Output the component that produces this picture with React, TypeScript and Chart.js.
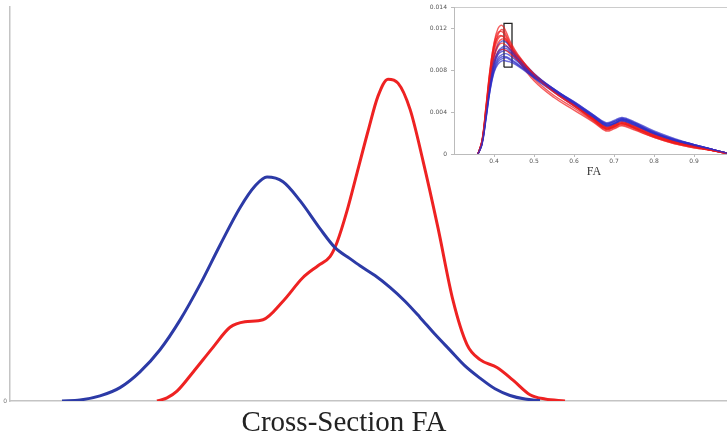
import React, { useEffect, useRef } from "react";
import { Chart, registerables } from "chart.js";
Chart.register(...registerables);

// ---- Main chart data (x in arbitrary cross-section units, y in % of axis height)
const blueX = [52, 70, 90, 110, 130, 150, 170, 190, 210, 230, 245, 257, 273, 290, 310, 325, 340, 350, 365, 380, 395, 410, 425, 440, 455, 470, 485, 500, 515, 530];
const blueY = [0, 0.25, 1.3, 3.4, 7.4, 13.0, 20.5, 29.5, 39.5, 49.0, 54.5, 56.8, 55.6, 50.8, 43.7, 38.9, 36.1, 34.3, 31.8, 28.8, 25.3, 21.2, 16.9, 12.9, 8.9, 5.8, 3.1, 1.4, 0.5, 0.1];
const redX = [147, 157, 167, 183, 203, 220, 235, 253, 273, 293, 308, 320, 327, 337, 347, 358, 368, 378, 388, 400, 413, 428, 443, 457, 470, 487, 503, 520, 535, 555];
const redY = [0, 0.8, 2.5, 7.3, 13.6, 18.7, 20.1, 20.6, 25.3, 31.3, 34.3, 36.6, 40.2, 48.2, 57.8, 68.4, 77.3, 81.6, 80.6, 74.0, 60.9, 43.9, 25.5, 14.3, 10.5, 8.5, 5.3, 1.6, 0.5, 0];
const mainYTicks = [0];
const mainTitle = "Cross-Section FA";

// ---- Inset data (FA vs density, density in thousandths)
const insetX = [0.36, 0.37, 0.38, 0.39, 0.40, 0.41, 0.42, 0.43, 0.44, 0.46, 0.50, 0.55, 0.60, 0.65, 0.68, 0.70, 0.72, 0.75, 0.80, 0.85, 0.90, 0.95, 0.99];
const blueCurves = [
  [0, 1.0, 3.6, 6.4, 8.3, 9.2, 9.5, 9.6, 9.4, 8.8, 7.5, 6.1, 4.9, 3.6, 2.9, 3.1, 3.4, 3.0, 2.1, 1.4, 0.9, 0.4, 0],
  [0, 0.9, 3.3, 6.0, 7.8, 8.6, 8.9, 8.9, 8.8, 8.4, 7.3, 6.0, 4.8, 3.5, 2.8, 3.0, 3.3, 2.9, 2.0, 1.3, 0.8, 0.4, 0],
  [0, 1.1, 3.9, 6.8, 8.8, 9.8, 10.2, 10.3, 10.0, 9.1, 7.6, 6.2, 4.9, 3.6, 2.8, 2.9, 3.2, 2.8, 1.9, 1.3, 0.8, 0.4, 0],
  [0, 1.0, 3.5, 6.2, 8.1, 9.0, 9.3, 9.3, 9.1, 8.6, 7.4, 6.1, 5.0, 3.7, 3.0, 3.2, 3.5, 3.1, 2.2, 1.5, 0.9, 0.4, 0],
  [0, 1.2, 4.1, 7.1, 9.3, 10.4, 10.8, 10.7, 10.3, 9.3, 7.7, 6.2, 4.9, 3.5, 2.7, 2.9, 3.2, 2.8, 2.0, 1.3, 0.8, 0.4, 0],
  [0, 0.9, 3.4, 6.1, 7.9, 8.8, 9.1, 9.2, 9.0, 8.5, 7.4, 6.0, 4.7, 3.4, 2.7, 2.9, 3.3, 2.9, 2.0, 1.4, 0.9, 0.4, 0],
  [0, 1.1, 3.8, 6.6, 8.6, 9.5, 9.8, 9.9, 9.7, 9.0, 7.6, 6.2, 5.0, 3.7, 2.9, 3.1, 3.4, 3.0, 2.1, 1.4, 0.9, 0.4, 0],
  [0, 1.0, 3.7, 6.5, 8.5, 9.6, 10.0, 10.1, 9.8, 8.9, 7.3, 5.9, 4.6, 3.4, 2.6, 2.8, 3.1, 2.7, 1.9, 1.2, 0.8, 0.3, 0],
];
const redCurves = [
  [0, 1.3, 4.5, 8.0, 10.6, 12.0, 12.3, 11.7, 10.8, 9.5, 7.6, 5.9, 4.6, 3.2, 2.4, 2.6, 2.9, 2.5, 1.7, 1.1, 0.7, 0.3, 0],
  [0, 1.2, 4.2, 7.4, 9.8, 11.0, 11.3, 11.0, 10.4, 9.3, 7.6, 6.0, 4.7, 3.3, 2.5, 2.7, 3.0, 2.6, 1.8, 1.2, 0.7, 0.3, 0],
  [0, 1.1, 4.0, 7.0, 9.2, 10.3, 10.6, 10.4, 10.0, 9.1, 7.5, 6.0, 4.7, 3.3, 2.5, 2.7, 3.0, 2.6, 1.8, 1.2, 0.8, 0.4, 0],
  [0, 1.3, 4.6, 8.1, 10.5, 11.6, 11.7, 11.2, 10.4, 9.0, 7.0, 5.4, 4.2, 3.0, 2.2, 2.4, 2.7, 2.3, 1.6, 1.0, 0.6, 0.3, 0],
  [0, 1.0, 3.8, 6.7, 8.8, 9.8, 10.0, 9.9, 9.6, 8.9, 7.5, 6.1, 4.8, 3.4, 2.6, 2.8, 3.1, 2.7, 1.9, 1.2, 0.8, 0.4, 0],
  [0, 1.2, 4.3, 7.6, 10.1, 11.4, 11.9, 11.4, 10.6, 9.4, 7.7, 6.1, 4.7, 3.3, 2.4, 2.6, 2.9, 2.5, 1.7, 1.1, 0.7, 0.3, 0],
  [0, 1.1, 4.0, 7.1, 9.4, 10.6, 11.0, 10.8, 10.3, 9.2, 7.5, 5.9, 4.6, 3.2, 2.4, 2.6, 2.9, 2.5, 1.7, 1.1, 0.7, 0.3, 0],
  [0, 1.2, 4.4, 7.8, 10.2, 11.2, 11.3, 10.9, 10.2, 9.0, 7.2, 5.6, 4.4, 3.1, 2.3, 2.5, 2.8, 2.4, 1.6, 1.0, 0.6, 0.3, 0],
];
const boxX = [0.425, 0.425, 0.445, 0.445, 0.425];
const boxY = [8.3, 12.5, 12.5, 8.3, 8.3];
const insetXTicks = [0.4, 0.5, 0.6, 0.7, 0.8, 0.9];
const insetYTicks = [0, 4, 8, 12, 14];
const insetTitle = "FA";

const toPts = (xs: number[], ys: number[]) => xs.map((x, i) => ({ x, y: ys[i] }));

export default function App() {
  const mainRef = useRef<HTMLCanvasElement | null>(null);
  const insetRef = useRef<HTMLCanvasElement | null>(null);

  useEffect(() => {
    const titlePlugin = {
      id: "mainTitle",
      afterDraw(chart: any) {
        const ctx = chart.ctx;
        ctx.save();
        ctx.font = '29px "Liberation Serif"';
        ctx.fillStyle = "#222";
        ctx.textAlign = "center";
        ctx.textBaseline = "alphabetic";
        ctx.fillText(mainTitle, 344, 431);
        ctx.restore();
      },
    };
    const main = new Chart(mainRef.current!, {
      type: "line",
      data: {
        datasets: [
          { data: toPts(blueX, blueY), borderColor: "#2c3aa6", borderWidth: 3, pointRadius: 0, cubicInterpolationMode: "monotone", fill: false },
          { data: toPts(redX, redY), borderColor: "#ee2222", borderWidth: 3, pointRadius: 0, cubicInterpolationMode: "monotone", fill: false },
        ],
      },
      options: {
        responsive: false,
        animation: false,
        devicePixelRatio: 1,
        layout: { padding: { top: 5, left: 0, right: 0, bottom: 0 } },
        plugins: { legend: { display: false }, tooltip: { enabled: false } },
        scales: {
          x: {
            type: "linear",
            min: 0,
            max: 717,
            ticks: { display: false },
            grid: { display: false, drawTicks: false },
            border: { display: true, color: "#c4c4c4", width: 1.5 },
            afterFit: (s: any) => { s.height = 38; },
          },
          y: {
            type: "linear",
            min: 0,
            max: 100,
            afterBuildTicks: (s: any) => { s.ticks = mainYTicks.map((v) => ({ value: v })); },
            ticks: { font: { size: 6, family: "DejaVu Sans" }, color: "#777", padding: 3, callback: (v: any) => String(v) },
            grid: { display: false, drawTicks: false },
            border: { display: true, color: "#c4c4c4", width: 1.5 },
            afterFit: (s: any) => { s.width = 10; },
          },
        },
      },
      plugins: [titlePlugin],
    } as any);

    const insetDatasets: any[] = [];
    blueCurves.forEach((c, i) => {
      insetDatasets.push({ data: toPts(insetX, c), borderColor: "rgba(45,45,200,0.7)", borderWidth: 1.4, pointRadius: 0, tension: 0.4, fill: false });
      insetDatasets.push({ data: toPts(insetX, redCurves[i]), borderColor: "rgba(240,25,25,0.7)", borderWidth: 1.4, pointRadius: 0, tension: 0.4, fill: false });
    });
    insetDatasets.push({ data: toPts(boxX, boxY), borderColor: "#222", borderWidth: 1.3, pointRadius: 0, tension: 0, fill: false });

    const inset = new Chart(insetRef.current!, {
      type: "line",
      data: { datasets: insetDatasets },
      options: {
        responsive: false,
        animation: false,
        devicePixelRatio: 1,
        layout: { padding: { top: 5, left: 0, right: 0, bottom: 0 } },
        plugins: { legend: { display: false }, tooltip: { enabled: false } },
        scales: {
          x: {
            type: "linear",
            min: 0.3,
            max: 1.0,
            afterBuildTicks: (s: any) => { s.ticks = insetXTicks.map((v) => ({ value: v })); },
            ticks: { font: { size: 6, family: "DejaVu Sans" }, color: "#555", padding: 1, maxRotation: 0, autoSkip: false, callback: (v: any) => Number(v).toFixed(1) },
            grid: { display: true, drawOnChartArea: false, drawTicks: true, tickLength: 3, color: "#bbb" },
            border: { display: true, color: "#bbb", width: 1 },
            title: { display: true, text: insetTitle, font: { family: "Liberation Serif", size: 12 }, color: "#333", padding: { top: 0, bottom: 1 } },
            afterFit: (s: any) => { s.height = 26; },
          },
          x2: {
            type: "linear",
            position: "top",
            min: 0.3,
            max: 1.0,
            ticks: { display: false },
            grid: { display: false, drawTicks: false },
            border: { display: true, color: "#ccc", width: 1 },
            afterFit: (s: any) => { s.height = 0; },
          },
          y: {
            type: "linear",
            min: 0,
            max: 14,
            afterBuildTicks: (s: any) => { s.ticks = insetYTicks.map((v) => ({ value: v })); },
            ticks: { font: { size: 6, family: "DejaVu Sans" }, color: "#555", padding: 4, autoSkip: false, callback: (v: any) => (Number(v) === 0 ? "0" : (Number(v) / 1000).toFixed(3)) },
            grid: { display: true, drawOnChartArea: false, drawTicks: true, tickLength: 3, color: "#bbb" },
            border: { display: true, color: "#bbb", width: 1 },
            afterFit: (s: any) => { s.width = 34; },
          },
        },
      },
    } as any);

    return () => {
      main.destroy();
      inset.destroy();
    };
  }, []);

  return (
    <div style={{ position: "absolute", left: 0, top: 0, width: 727, height: 439, overflow: "hidden", background: "#fff" }}>
      <canvas ref={mainRef} width={727} height={439} style={{ position: "absolute", left: 0, top: 0, width: 727, height: 439 }} />
      <canvas ref={insetRef} width={314} height={180} style={{ position: "absolute", left: 420, top: 0, width: 314, height: 180 }} />
    </div>
  );
}
